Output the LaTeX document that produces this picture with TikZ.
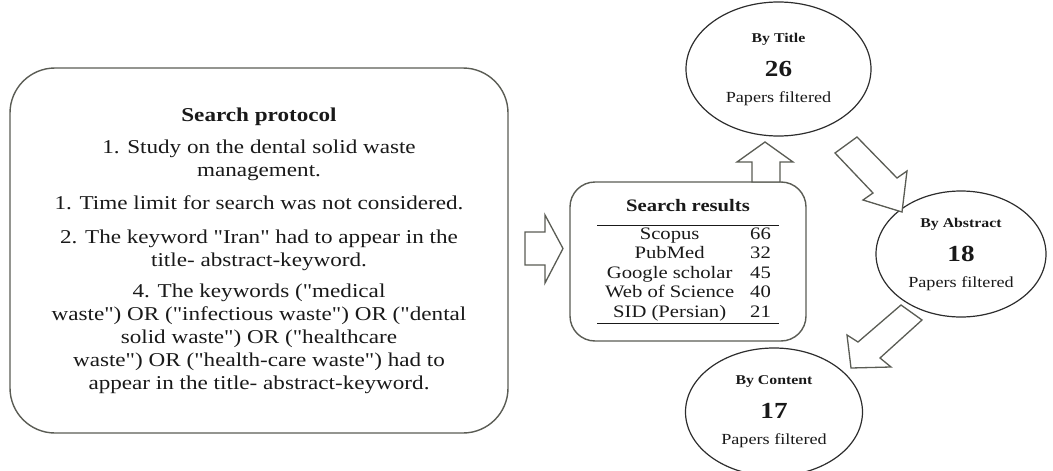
\documentclass[tikz,border=0pt]{standalone}
\usepackage{fontspec}
\setmainfont{Liberation Serif}[FakeStretch=1.18,Ligatures=TeXOff]
\usetikzlibrary{shapes.geometric}
\definecolor{boxline}{RGB}{90,92,84}
\definecolor{ringline}{RGB}{45,45,45}
\definecolor{ink}{RGB}{25,25,25}
\setlength{\tabcolsep}{8pt}
\setlength{\arrayrulewidth}{0.9pt}
\tikzset{
  roundbox/.style={draw=boxline,line width=1.4pt,rounded corners=#1,align=center,text=ink,inner sep=0pt},
  stage/.style={draw=ringline,line width=1.2pt,ellipse,inner sep=0pt,align=center,text=ink,
    font=\fontsize{15.4}{26}\selectfont},
  blockarrow/.style={draw=boxline,line width=1.3pt,fill=white,line join=miter}
}

\begin{document}
\begin{tikzpicture}[x=1pt,y=-1pt]
\useasboundingbox (0,0) rectangle (1053,471);
% protocol on the left
\node[roundbox=45pt,minimum width=498pt,minimum height=365pt,font=\fontsize{19.6}{23}\selectfont] (protocol) at (259,250.5)
  {\textbf{Search protocol}\\[9pt]
   1. Study on the dental solid waste\\
   management.\\[10pt]
   1. Time limit for search was not considered.\\[11pt]
   2. The keyword "Iran" had to appear in the\\
   title- abstract-keyword.\\[8pt]
   4. The keywords ("medical\\
   waste") OR ("infectious waste") OR ("dental\\
   solid waste") OR ("healthcare\\
   waste") OR ("health-care waste") had to\\
   appear in the title- abstract-keyword.};
% results table
\node[roundbox=25pt,minimum width=236pt,minimum height=159pt,font=\fontsize{17.5}{19.5}\selectfont] (results) at (688,261.5)
  {\textbf{Search results}\\[12pt]
   \begin{tabular}{cc}
   \hline
   Scopus & 66\\
   PubMed & 32\\
   Google scholar & 45\\
   Web of Science & 40\\
   SID (Persian) & 21\\
   \hline
   \end{tabular}};
% filter stages
\node[stage,minimum width=185pt,minimum height=134pt] (bytitle) at (778.5,69)
  {{\fontsize{13.4}{16}\selectfont\bfseries By Title}\\[8pt]
   {\fontsize{23}{26}\selectfont\bfseries 26}\\
   Papers filtered};
\node[stage,minimum width=170pt,minimum height=126pt] (byabstract) at (961,254)
  {{\fontsize{13.4}{16}\selectfont\bfseries By Abstract}\\[8pt]
   {\fontsize{23}{26}\selectfont\bfseries 18}\\
   Papers filtered};
\node[stage,minimum width=177pt,minimum height=128pt] (bycontent) at (774,412)
  {{\fontsize{13.4}{16}\selectfont\bfseries By Content}\\[8pt]
   {\fontsize{23}{26}\selectfont\bfseries 17}\\
   Papers filtered};
% hollow arrows
\draw[blockarrow] (525,232) -- (545,232) -- (545,215) -- (563,248.5) -- (545,283) -- (545,265) -- (525,265) -- cycle;
\draw[blockarrow] (752,182) -- (752,162) -- (737,162) -- (765,142) -- (793,162) -- (780,162) -- (780,182) -- cycle;
\draw[blockarrow] (835,153) -- (857,137) -- (897,178) -- (907,171) -- (902,212) -- (863,200) -- (873,193) -- cycle;
\draw[blockarrow] (901,305) -- (922,320) -- (880,358) -- (891,367) -- (851,368) -- (847,335) -- (858,342) -- cycle;
\end{tikzpicture}
\end{document}
